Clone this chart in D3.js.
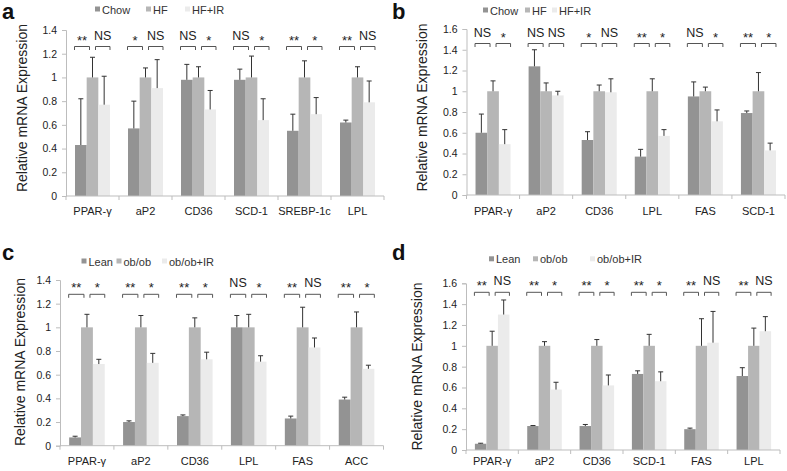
<!DOCTYPE html>
<html><head><meta charset="utf-8">
<script src="https://cdn.jsdelivr.net/npm/d3@7"></script>
<style>
body{margin:0;background:#fff;}
svg{display:block;font-family:Arial,"Liberation Sans",sans-serif;}
</style></head>
<body><svg id="chart" width="787" height="471"></svg>
<script>
// ---------- Panel a ----------
const aCategories = ["PPAR-γ","aP2","CD36","SCD-1","SREBP-1c","LPL"];
const aSeries = ["Chow","HF","HF+IR"];
const aChow = [0.43,0.57,0.98,0.98,0.55,0.62];
const aHF = [1.0,1.0,1.0,1.0,1.0,1.0];
const aHFIR = [0.77,0.91,0.73,0.64,0.69,0.79];
const aChowErr = [0.39,0.23,0.13,0.09,0.14,0.02];
const aHFErr = [0.17,0.08,0.09,0.18,0.14,0.09];
const aHFIRErr = [0.24,0.24,0.16,0.18,0.14,0.18];
const aSig1 = ["**","*","NS","NS","**","**"];
const aSig2 = ["NS","NS","*","*","*","NS"];
const aTicks = [0,0.2,0.4,0.6,0.8,1,1.2,1.4];

// ---------- Panel b ----------
const bCategories = ["PPAR-γ","aP2","CD36","LPL","FAS","SCD-1"];
const bSeries = ["Chow","HF","HF+IR"];
const bChow = [0.60,1.24,0.53,0.37,0.95,0.79];
const bHF = [1.0,1.0,1.0,1.0,1.0,1.0];
const bHFIR = [0.49,0.96,0.99,0.57,0.71,0.43];
const bChowErr = [0.18,0.16,0.08,0.07,0.14,0.02];
const bHFErr = [0.10,0.08,0.06,0.12,0.04,0.18];
const bHFIRErr = [0.14,0.04,0.13,0.06,0.11,0.07];
const bSig1 = ["NS","NS","*","**","NS","**"];
const bSig2 = ["*","NS","NS","*","*","*"];
const bTicks = [0,0.2,0.4,0.6,0.8,1,1.2,1.4,1.6];

// ---------- Panel c ----------
const cCategories = ["PPAR-γ","aP2","CD36","LPL","FAS","ACC"];
const cSeries = ["Lean","ob/ob","ob/ob+IR"];
const cLean = [0.07,0.20,0.25,1.0,0.23,0.39];
const cObob = [1.0,1.0,1.0,1.0,1.0,1.0];
const cObobIR = [0.69,0.70,0.73,0.71,0.83,0.65];
const cLeanErr = [0.01,0.01,0.01,0.10,0.02,0.02];
const cObobErr = [0.11,0.10,0.08,0.11,0.17,0.13];
const cObobIRErr = [0.04,0.08,0.06,0.05,0.08,0.03];
const cSig1 = ["**","**","**","NS","**","**"];
const cSig2 = ["*","*","*","*","NS","*"];
const cTicks = [0,0.2,0.4,0.6,0.8,1,1.2,1.4];

// ---------- Panel d ----------
const dCategories = ["PPAR-γ","aP2","CD36","SCD-1","FAS","LPL"];
const dSeries = ["Lean","ob/ob","ob/ob+IR"];
const dLean = [0.06,0.23,0.23,0.73,0.20,0.71];
const dObob = [1.0,1.0,1.0,1.0,1.0,1.0];
const dObobIR = [1.30,0.58,0.62,0.66,1.03,1.14];
const dLeanErr = [0.005,0.005,0.015,0.03,0.01,0.08];
const dObobErr = [0.14,0.04,0.06,0.11,0.26,0.17];
const dObobIRErr = [0.14,0.07,0.10,0.09,0.30,0.14];
const dSig1 = ["**","**","**","**","**","**"];
const dSig2 = ["NS","*","*","*","NS","NS"];
const dTicks = [0,0.2,0.4,0.6,0.8,1,1.2,1.4,1.6];

const colors = ["#939393","#b6b6b6","#ebebeb"];
const svg = d3.select("#chart");

function drawPanel(cfg){
  const g = svg.append("g");
  // panel letter
  g.append("text").attr("x",cfg.letterX).attr("y",cfg.letterY)
    .attr("font-size",22).attr("font-weight","bold").attr("fill","#111").text(cfg.letter);
  // legend
  cfg.series.forEach((s,i)=>{
    g.append("rect").attr("x",cfg.legendX[i]).attr("y",cfg.legendY-3)
      .attr("width",5).attr("height",5).attr("fill",colors[i]);
    g.append("text").attr("x",cfg.legendX[i]+7).attr("y",cfg.legendY+4)
      .attr("font-size",11).attr("fill","#333").text(s);
  });
  const maxV = cfg.ticks[cfg.ticks.length-1];
  const y = d3.scaleLinear().domain([0,maxV]).range([cfg.yZero,cfg.yTop]);
  const x = d3.scaleBand().domain(cfg.categories).range([cfg.x0,cfg.x1])
    .paddingInner(0.34).paddingOuter(0.17);
  const xs = d3.scaleBand().domain(cfg.series).range([0,x.bandwidth()]);
  const step = x.step();
  const pad = step*0.34/2;

  // y axis
  const ya = g.append("g").attr("transform",`translate(${cfg.x0},0)`)
    .call(d3.axisLeft(y).tickValues(cfg.ticks).tickSize(4).tickPadding(5)
      .tickFormat(d=>String(+d.toFixed(1))));
  ya.select(".domain").attr("stroke","#bdbdbd");
  ya.selectAll(".tick line").attr("stroke","#bdbdbd");
  ya.selectAll(".tick text").attr("font-size",10.5).attr("fill","#222")
    .attr("font-family","Arial, 'Liberation Sans', sans-serif");

  // y label
  g.append("text").attr("transform",`translate(${cfg.ylabX},${cfg.ylabY}) rotate(-90)`)
    .attr("text-anchor","middle").attr("font-size",14).attr("fill","#222")
    .text("Relative mRNA Expression");

  // bars
  cfg.values.forEach((vals,si)=>{
    const sname = cfg.series[si];
    vals.forEach((v,ci)=>{
      const cat = cfg.categories[ci];
      const bx = x(cat)+xs(sname);
      g.append("rect").attr("x",bx).attr("y",y(v)).attr("width",xs.bandwidth())
        .attr("height",y(0)-y(v)).attr("fill",colors[si]);
    });
  });
  // error bars
  cfg.values.forEach((vals,si)=>{
    const sname = cfg.series[si];
    vals.forEach((v,ci)=>{
      const cat = cfg.categories[ci];
      const cx = x(cat)+xs(sname)+xs.bandwidth()/2;
      const top = v + cfg.errors[si][ci];
      g.append("line").attr("x1",cx).attr("x2",cx).attr("y1",y(v)).attr("y2",y(top))
        .attr("stroke","#333").attr("stroke-width",1);
      g.append("line").attr("x1",cx-2.5).attr("x2",cx+2.5).attr("y1",y(top)).attr("y2",y(top))
        .attr("stroke","#333").attr("stroke-width",1);
    });
  });

  // x axis
  g.append("line").attr("x1",cfg.x0).attr("x2",cfg.x1).attr("y1",y(0)).attr("y2",y(0))
    .attr("stroke","#bdbdbd");
  cfg.categories.forEach((cat,ci)=>{
    const bx = x(cat)-pad;
    g.append("line").attr("x1",bx).attr("x2",bx).attr("y1",y(0)).attr("y2",y(0)+4).attr("stroke","#bdbdbd");
    if(ci===cfg.categories.length-1){
      g.append("line").attr("x1",bx+step).attr("x2",bx+step).attr("y1",y(0)).attr("y2",y(0)+4).attr("stroke","#bdbdbd");
    }
    g.append("text").attr("x",x(cat)+x.bandwidth()/2).attr("y",cfg.catY)
      .attr("text-anchor","middle").attr("font-size",11).attr("fill","#222").text(cat);
  });

  // significance brackets
  cfg.categories.forEach((cat,ci)=>{
    const gx0 = x(cat), gx1 = x(cat)+x.bandwidth();
    const mid = x(cat)+xs(cfg.series[1])+xs.bandwidth()/2;
    const by = cfg.bracketY;
    const segs = [[gx0-0.5, mid-3, cfg.sig1[ci]],[mid+3, gx1, cfg.sig2[ci]]];
    segs.forEach(([l,r,lab])=>{
      g.append("path").attr("d",`M${l},${by+3.5}V${by}H${r}V${by+3.5}`)
        .attr("fill","none").attr("stroke","#555").attr("stroke-width",1);
      const isStar = lab.indexOf("*")>=0;
      g.append("text").attr("x",(l+r)/2).attr("y",isStar? by-2 : by-7)
        .attr("text-anchor","middle").attr("font-size",isStar?13:12.5)
        .attr("fill","#222").text(lab);
    });
  });
}

drawPanel({letter:"a",letterX:2,letterY:19,legendX:[95,146,185],legendY:9.5,
  series:aSeries,categories:aCategories,values:[aChow,aHF,aHFIR],errors:[aChowErr,aHFErr,aHFIRErr],
  sig1:aSig1,sig2:aSig2,ticks:aTicks,x0:66,x1:384,yZero:196,yTop:30,bracketY:46.5,
  ylabX:27,ylabY:108,catY:215});
drawPanel({letter:"b",letterX:392,letterY:19,legendX:[483,525,552],legendY:10.5,
  series:bSeries,categories:bCategories,values:[bChow,bHF,bHFIR],errors:[bChowErr,bHFErr,bHFIRErr],
  sig1:bSig1,sig2:bSig2,ticks:bTicks,x0:466.5,x1:785,yZero:195,yTop:29,bracketY:43.5,
  ylabX:427,ylabY:107.5,catY:215});
drawPanel({letter:"c",letterX:2,letterY:260,legendX:[81.5,116.5,162],legendY:261.5,
  series:cSeries,categories:cCategories,values:[cLean,cObob,cObobIR],errors:[cLeanErr,cObobErr,cObobIRErr],
  sig1:cSig1,sig2:cSig2,ticks:cTicks,x0:60,x1:383.5,yZero:445.7,yTop:280,bracketY:294.3,
  ylabX:25,ylabY:362,catY:465});
drawPanel({letter:"d",letterX:392,letterY:260,legendX:[489,533,590],legendY:259.3,
  series:dSeries,categories:dCategories,values:[dLean,dObob,dObobIR],errors:[dLeanErr,dObobErr,dObobIRErr],
  sig1:dSig1,sig2:dSig2,ticks:dTicks,x0:466,x1:780,yZero:450,yTop:283.3,bracketY:292.3,
  ylabX:422,ylabY:366.5,catY:465});
</script></body></html>
